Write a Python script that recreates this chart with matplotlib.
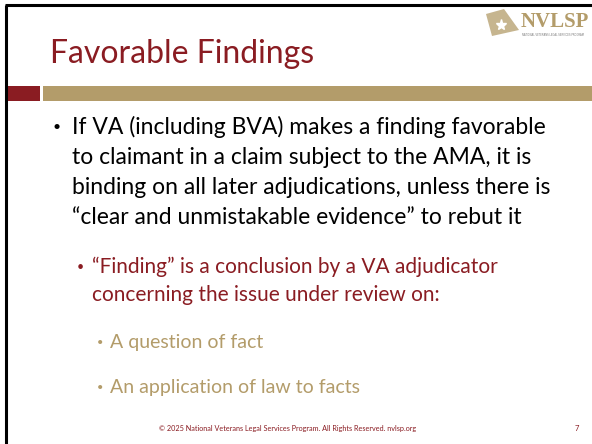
import matplotlib.pyplot as plt
from matplotlib.patches import Rectangle, Polygon

# slide content
title = "Favorable Findings"
bullet_lines = [
    "If VA (including BVA) makes a finding favorable",
    "to claimant in a claim subject to the AMA, it is",
    "binding on all later adjudications, unless there is",
    "\u201cclear and unmistakable evidence\u201d to rebut it",
]
sub_lines = [
    "\u201cFinding\u201d is a conclusion by a VA adjudicator",
    "concerning the issue under review on:",
]
subsub_items = ["A question of fact", "An application of law to facts"]
footer = "\u00a9 2025 National Veterans Legal Services Program. All Rights Reserved. nvlsp.org"
page_no = "7"

red = "#8a1c22"
tan = "#b39c6a"
font = "Lato"

fig = plt.figure(figsize=(5.92, 4.44), dpi=100)
ax = fig.add_axes([0, 0, 1, 1])
ax.set_xlim(0, 592)
ax.set_ylim(444, 0)
ax.axis("off")

# frame lines (left and top)
ax.plot([6, 6], [5, 444], color="black", lw=2.2, solid_capstyle="butt")
ax.plot([5, 592], [5, 5], color="black", lw=2.2, solid_capstyle="butt")

# title
ax.text(50, 63, title, color=red, fontsize=23, family=font, va="baseline", ha="left")

# header bars
ax.add_patch(Rectangle((7, 86), 33, 15, color=red, lw=0))
ax.add_patch(Rectangle((43, 86), 549, 15, color=tan, lw=0))

# logo
ax.add_patch(Polygon([[486, 14], [504, 9], [519, 30], [492, 36]], color=tan, alpha=0.75, lw=0))
ax.plot(501, 25, marker="*", color="white", ms=8)
ax.text(521, 27, "NVLSP", color=tan, fontsize=15, family="Liberation Serif",
        weight="bold", va="baseline", ha="left")
ax.text(522, 35, "NATIONAL VETERANS LEGAL SERVICES PROGRAM", color="#777777",
        fontsize=1.8, family="DejaVu Sans", va="center", ha="left")

# main bullet
y0, dy = 127, 30.3
ax.text(53, y0, "\u2022", color="black", fontsize=10, va="center", family=font)
for i, line in enumerate(bullet_lines):
    ax.text(72, y0 + i * dy, line, color="black", fontsize=16.5, family=font, va="center")

# sub bullet
y1, dy1 = 267, 28
ax.text(77, y1, "\u2022", color=red, fontsize=9, va="center", family=font)
for i, line in enumerate(sub_lines):
    ax.text(92, y1 + i * dy1, line, color=red, fontsize=15, family=font, va="center")

# sub-sub bullets
for i, item in enumerate(subsub_items):
    yy = 342 + i * 45
    ax.text(97, yy, "\u2022", color=tan, fontsize=8, va="center", family=font)
    ax.text(110, yy, item, color=tan, fontsize=14, family=font, va="center")

# footer
ax.text(288, 428, footer, color=red, fontsize=5.2, family=font, ha="center", va="center")
ax.text(577, 428, page_no, color=red, fontsize=5.5, family=font, ha="center", va="center")

fig.savefig("out.png", dpi=100)
